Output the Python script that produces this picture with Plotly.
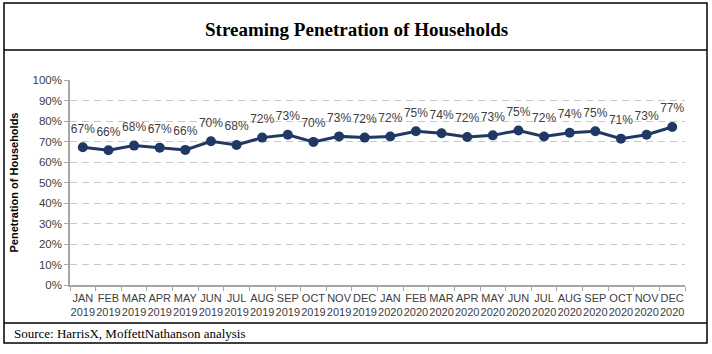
import plotly.graph_objects as go

months = ["JAN", "FEB", "MAR", "APR", "MAY", "JUN", "JUL", "AUG", "SEP", "OCT", "NOV", "DEC"]
years = ["2019", "2020"]
categories = [f"{m}<br>{y}" for y in years for m in months]
penetration = [0.672, 0.657, 0.680, 0.670, 0.659, 0.701, 0.683, 0.719, 0.733, 0.698, 0.725, 0.719,
               0.724, 0.750, 0.740, 0.722, 0.730, 0.754, 0.724, 0.743, 0.750, 0.714, 0.733, 0.771]
title_text = "Streaming Penetration of Households"
source_text = "Source: HarrisX, MoffettNathanson analysis"
y_title = "Penetration of Households"

W, H = 712, 354
L, R, T, B = 70, 685, 80, 285  # plot area pixels


def px(x):
    return (x - L) / (R - L)


def py(y):
    return (B - y) / (B - T)


fig = go.Figure()
fig.add_trace(go.Scatter(
    x=categories, y=penetration, mode="lines+markers",
    line=dict(color="#1f3864", width=3),
    marker=dict(color="#1f3864", size=10),
    hoverinfo="skip",
))
# data labels, with a transparent larger marker to push the labels up a bit
fig.add_trace(go.Scatter(
    x=categories, y=penetration, mode="markers+text",
    marker=dict(color="rgba(0,0,0,0)", size=17),
    texttemplate="%{y:.0%}", textposition="top center",
    textfont=dict(family="Liberation Sans", size=12, color="#404040"),
    cliponaxis=False, hoverinfo="skip",
))

shapes = [
    dict(type="rect", xref="paper", yref="paper", x0=px(4), x1=px(707), y0=py(3), y1=py(343),
         line=dict(color="black", width=1.5), fillcolor="rgba(0,0,0,0)"),
    dict(type="line", xref="paper", yref="paper", x0=px(4), x1=px(707), y0=py(50), y1=py(50),
         line=dict(color="black", width=1.5)),
    dict(type="line", xref="paper", yref="paper", x0=px(4), x1=px(707), y0=py(323), y1=py(323),
         line=dict(color="black", width=1.5)),
]

annotations = [
    dict(text=f"<b>{title_text}</b>", xref="paper", yref="paper", x=px(356), y=py(29),
         xanchor="center", yanchor="middle", showarrow=False,
         font=dict(family="Liberation Serif", size=19, color="black")),
    dict(text=source_text, xref="paper", yref="paper", x=px(12), y=py(333),
         xanchor="left", yanchor="middle", showarrow=False,
         font=dict(family="Liberation Serif", size=13, color="black")),
]

fig.update_layout(
    width=W, height=H,
    margin=dict(l=L, r=W - R, t=T, b=H - B),
    paper_bgcolor="white", plot_bgcolor="white",
    showlegend=False,
    shapes=shapes, annotations=annotations,
    font=dict(family="Liberation Sans", size=11, color="#404040"),
)
fig.update_xaxes(
    type="category", range=[-0.5, 23.5], showgrid=False,
    showline=True, linecolor="#a6a6a6", linewidth=1.5,
    ticks="outside", tickson="boundaries", ticklen=4, tickcolor="#a6a6a6",
    tickangle=0, ticklabelstandoff=2,
    tickfont=dict(family="Liberation Sans", size=11, color="#404040"),
)
fig.update_yaxes(
    range=[0, 1], dtick=0.1, tickformat=".0%",
    showgrid=True, gridcolor="#c8c8c8", griddash="7px,5px", gridwidth=1,
    zeroline=False, showline=True, linecolor="#a6a6a6", linewidth=1.5,
    ticks="outside", ticklen=4, tickcolor="#a6a6a6",
    tickfont=dict(family="Liberation Sans", size=11.5, color="#404040"),
    title=dict(text=f"<b>{y_title}</b>", standoff=12,
               font=dict(family="Liberation Sans", size=11, color="black")),
)

fig.write_html("out.html")
